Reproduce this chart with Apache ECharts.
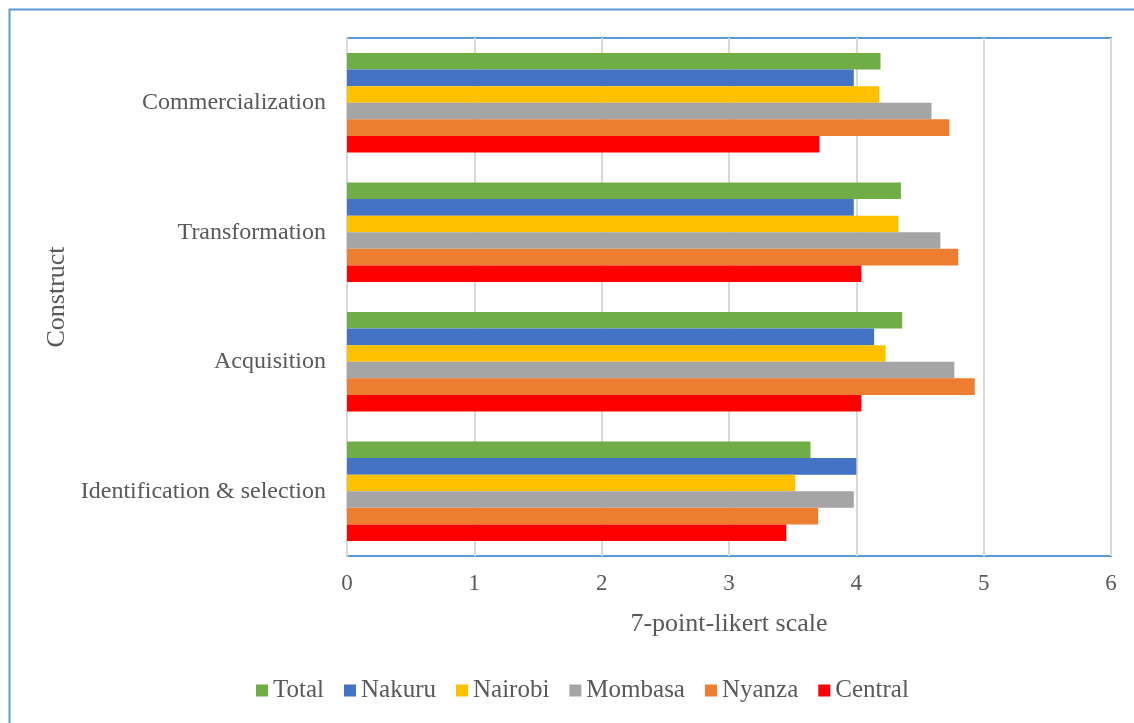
<!DOCTYPE html>
<html>
<head>
<meta charset="utf-8">
<title>Construct scores by region</title>
<script src="https://cdn.jsdelivr.net/npm/echarts@6/dist/echarts.min.js"></script>
<style>
  html, body { margin: 0; padding: 0; background: #ffffff; }
  #chart { width: 1134px; height: 723px; }
</style>
</head>
<body>
<div id="chart"></div>
<script>
// Constructs, listed bottom to top on the category axis
const constructs = ['Identification & selection', 'Acquisition', 'Transformation', 'Commercialization'];

// Mean score per construct for each region (same order as constructs)
const total    = [3.64, 4.36, 4.35, 4.19];
const nakuru   = [4.00, 4.14, 3.98, 3.98];
const nairobi  = [3.52, 4.23, 4.33, 4.18];
const mombasa  = [3.98, 4.77, 4.66, 4.59];
const nyanza   = [3.70, 4.93, 4.80, 4.73];
const central  = [3.45, 4.04, 4.04, 3.71];

const seriesNames = ['Total', 'Nakuru', 'Nairobi', 'Mombasa', 'Nyanza', 'Central'];
const seriesValues = [total, nakuru, nairobi, mombasa, nyanza, central];
const seriesColors = ['#70AD47', '#4472C4', '#FFC000', '#A5A5A5', '#ED7D31', '#FF0000'];

const xTicks = [0, 1, 2, 3, 4, 5, 6];

const textColor = '#595959';
const fontFamily = '"Liberation Serif", "Times New Roman", serif';

const chart = echarts.init(document.getElementById('chart'), null, { renderer: 'canvas' });

const series = seriesNames.map((name, i) => ({
  name: name,
  type: 'bar',
  data: seriesValues[i],
  itemStyle: { color: seriesColors[i] },
  barGap: '0%',
  barCategoryGap: '23%'
}));

chart.setOption({
  animation: false,
  backgroundColor: '#ffffff',
  textStyle: { fontFamily: fontFamily, color: textColor },
  graphic: [{
    type: 'rect',
    left: 7, top: 7,
    shape: { width: 1200, height: 800 },
    style: { fill: 'none', stroke: '#5B9BD5', lineWidth: 2 },
    silent: true
  }],
  legend: {
    data: seriesNames,
    bottom: 15,
    left: 251,
    icon: 'rect',
    itemWidth: 12,
    itemHeight: 12,
    itemGap: 20,
    textStyle: { fontFamily: fontFamily, fontSize: 25, color: textColor }
  },
  grid: {
    left: 347, right: 23, top: 38, bottom: 167,
    show: true,
    borderColor: '#5B9BD5',
    borderWidth: 2,
    containLabel: false
  },
  xAxis: {
    type: 'value',
    min: xTicks[0],
    max: xTicks[xTicks.length - 1],
    interval: 1,
    name: '7-point-likert scale',
    nameLocation: 'middle',
    nameGap: 55,
    nameTextStyle: { fontFamily: fontFamily, fontSize: 26, color: textColor },
    axisLine: { show: false },
    axisTick: { show: false },
    axisLabel: { fontFamily: fontFamily, fontSize: 23, color: textColor, margin: 16 },
    splitLine: { show: true, lineStyle: { color: '#D9D9D9', width: 2 } }
  },
  yAxis: {
    type: 'category',
    data: constructs,
    name: 'Construct',
    nameLocation: 'middle',
    nameRotate: 90,
    nameGap: 268,
    nameTextStyle: { fontFamily: fontFamily, fontSize: 26, color: textColor },
    axisLine: { show: true, lineStyle: { color: '#D9D9D9', width: 2 } },
    axisTick: { show: false },
    axisLabel: { fontFamily: fontFamily, fontSize: 24, color: textColor, margin: 21 },
    splitLine: { show: false }
  },
  series: series
});
</script>
</body>
</html>
